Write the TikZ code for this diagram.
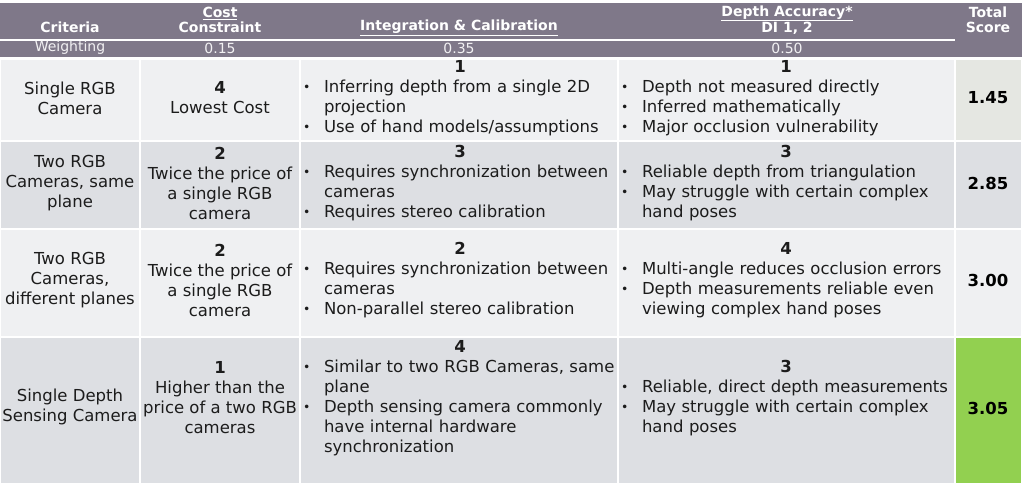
\documentclass[tikz,border=0pt]{standalone}
\usepackage{fontspec}
\setmainfont{DejaVu Sans}
\usepackage{graphicx}
\usepackage{tikz}
\usetikzlibrary{shapes,positioning}

\definecolor{hdrgray}{RGB}{127,120,137}
\definecolor{rowlight}{RGB}{239,240,242}
\definecolor{rowdark}{RGB}{221,223,227}
\definecolor{scoregray}{RGB}{229,231,226}
\definecolor{scoregreen}{RGB}{146,208,80}
\definecolor{ink}{RGB}{28,28,28}

\tikzset{x=1pt,y=-1pt,
  cellbox/.style={draw=white,line width=2pt},
  hdrtxt/.style={text=white,font=\fontsize{14}{15}\selectfont\bfseries,align=center,inner sep=0pt},
  wtxt/.style={text=white!90!hdrgray,font=\fontsize{14}{15}\selectfont,inner sep=0pt},
  celltxt/.style={text=ink,font=\fontsize{16.5}{20}\selectfont,align=center,inner sep=0pt},
  listtxt/.style={celltxt,align=left,text width=#1},
  scoretxt/.style={celltxt,text=black,font=\fontsize{16.5}{20}\selectfont\bfseries}}

\newcommand{\bpt}[1]{\hangindent=22pt\hangafter=1\noindent
  \makebox[22pt][l]{\hspace{1pt}\raisebox{1.2pt}{\scalebox{0.75}{\textbullet}}}#1\par}
\newcommand{\rank}[1]{{\centering\textbf{#1}\par}}

\begin{document}
\begin{tikzpicture}
\useasboundingbox (0,0) rectangle (1024,485);

  \fill[hdrgray] (0,3) rectangle (1022,57);
  \draw[white,line width=1.5pt] (0,40) -- (955,40);

  \foreach \ya/\yb/\c in {59/141/rowlight,141/229/rowdark,229/337/rowlight,337/484/rowdark}{
    \foreach \xa/\xb in {0/140,140/300,300/618,618/955,955/1022}
      \draw[cellbox,fill=\c] (\xa,\ya) rectangle (\xb,\yb);
  }
  \draw[cellbox,fill=scoregray] (955,59) rectangle (1022,141);
  \draw[cellbox,fill=scoregreen] (955,337) rectangle (1022,484);

  \node[hdrtxt] (crit) at (70,27) {Criteria};
  \node[hdrtxt] (cost) at (220,20) {\underline{Cost}\\Constraint};
  \node[hdrtxt] (integ) at (459,28) {\underline{Integration \& Calibration}};
  \node[hdrtxt] (depth) at (787,20) {\underline{Depth Accuracy*}\\DI 1, 2};
  \node[hdrtxt] (total) at (988,20) {Total\\Score};

  \node[wtxt] (wcrit) at (70,48) {Weighting};
  \node[wtxt] (wcost) at (220,48) {0.15};
  \node[wtxt] (winteg) at (459,48) {0.35};
  \node[wtxt] (wdepth) at (787,48) {0.50};

  % single rgb
  \node[celltxt] (a1) at (70,98) {Single RGB\\Camera};
  \node[celltxt] (a2) at (220,98) {\textbf{4}\\Lowest Cost};
  \node[listtxt=316pt] (a3) at (460,98) {\rank{1}
    \bpt{Inferring depth from a single 2D\newline projection}
    \bpt{Use of hand models/assumptions}};
  \node[listtxt=332pt] (a4) at (786,98) {\rank{1}
    \bpt{Depth not measured directly}
    \bpt{Inferred mathematically}
    \bpt{Major occlusion vulnerability}};
  \node[scoretxt] (a5) at (988,98) {1.45};

  % two rgb, same plane
  \node[celltxt] (b1) at (70,183) {Two RGB\\Cameras, same\\plane};
  \node[celltxt] (b2) at (220,183) {\textbf{2}\\Twice the price of\\a single RGB\\camera};
  \node[listtxt=316pt] (b3) at (460,183) {\rank{3}
    \bpt{Requires synchronization between\newline cameras}
    \bpt{Requires stereo calibration}};
  \node[listtxt=332pt] (b4) at (786,183) {\rank{3}
    \bpt{Reliable depth from triangulation}
    \bpt{May struggle with certain complex\newline hand poses}};
  \node[scoretxt] (b5) at (988,183) {2.85};

  % two rgb, different planes
  \node[celltxt] (c1) at (70,280) {Two RGB\\Cameras,\\different planes};
  \node[celltxt] (c2) at (220,280) {\textbf{2}\\Twice the price of\\a single RGB\\camera};
  \node[listtxt=316pt] (c3) at (460,280) {\rank{2}
    \bpt{Requires synchronization between\newline cameras}
    \bpt{Non-parallel stereo calibration}};
  \node[listtxt=332pt] (c4) at (786,280) {\rank{4}
    \bpt{Multi-angle reduces occlusion errors}
    \bpt{Depth measurements reliable even\newline viewing complex hand poses}};
  \node[scoretxt] (c5) at (988,280) {3.00};

  % depth camera
  \node[celltxt] (d1) at (70,407) {Single Depth\\Sensing Camera};
  \node[celltxt] (d2) at (220,398) {\textbf{1}\\Higher than the\\price of a two RGB\\cameras};
  \node[listtxt=316pt] (d3) at (460,398) {\rank{4}
    \bpt{Similar to two RGB Cameras, same\newline plane}
    \bpt{Depth sensing camera commonly\newline have internal hardware\newline synchronization}};
  \node[listtxt=332pt] (d4) at (786,398) {\rank{3}
    \bpt{Reliable, direct depth measurements}
    \bpt{May struggle with certain complex\newline hand poses}};
  \node[scoretxt] (d5) at (988,408) {3.05};

\end{tikzpicture}
\end{document}
